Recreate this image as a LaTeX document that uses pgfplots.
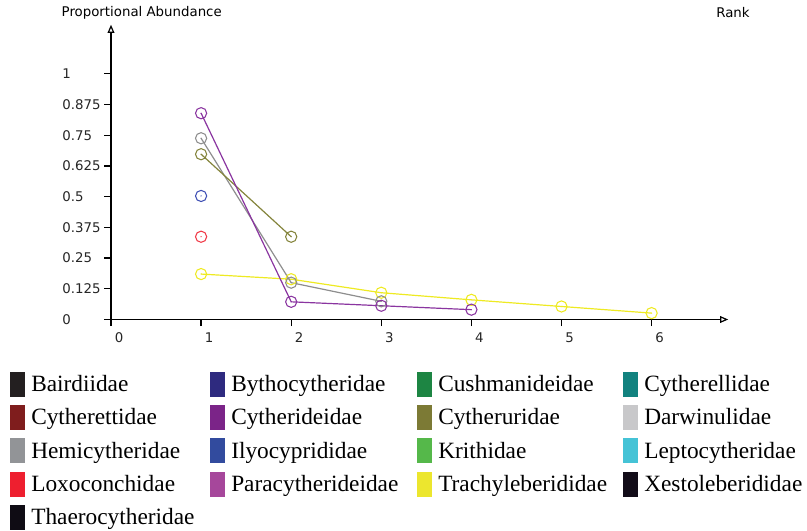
\documentclass[border=0pt]{standalone}
\usepackage{fontspec}
\setmainfont{Liberation Serif}
\newfontfamily\dejavu{DejaVu Sans}
\usepackage{pgfplots}
\pgfplotsset{compat=1.18}
\usetikzlibrary{arrows.meta}
\definecolor{cBair}{HTML}{231F20}
\definecolor{cByth}{HTML}{2E2A7F}
\definecolor{cCush}{HTML}{1D8543}
\definecolor{cCytherell}{HTML}{12827F}
\definecolor{cCytherett}{HTML}{7F1D1D}
\definecolor{cCytherid}{HTML}{7B2488}
\definecolor{cCytheru}{HTML}{7C7A35}
\definecolor{cDarw}{HTML}{C8C8CA}
\definecolor{cHemi}{HTML}{929497}
\definecolor{cIlyo}{HTML}{324B9E}
\definecolor{cKrit}{HTML}{55B84A}
\definecolor{cLept}{HTML}{45C3D6}
\definecolor{cLoxo}{HTML}{EE1F2F}
\definecolor{cPara}{HTML}{A6479B}
\definecolor{cTrach}{HTML}{ECE62E}
\definecolor{cXest}{HTML}{120C18}
\definecolor{cThae}{HTML}{0F0C14}
% plot colours
\definecolor{pPurple}{HTML}{8A35A0}
\definecolor{pOlive}{HTML}{84843C}
\definecolor{pGray}{HTML}{8E8E8E}
\definecolor{pBlue}{HTML}{4050B4}
\definecolor{pRed}{HTML}{F03A48}
\definecolor{pYellow}{HTML}{EEEA22}
\pgfdeclareplotmark{odot}{%
  \pgfpathcircle{\pgfpointorigin}{\pgfplotmarksize}\pgfusepathqstroke
  \pgfpathcircle{\pgfpointorigin}{0.5pt}\pgfusepathqfill}
\newcommand{\LA}[1]{\makebox[134.25pt][l]{#1}}
\newcommand{\LB}[1]{\makebox[139.5pt][l]{#1}}
\newcommand{\LC}[1]{\makebox[138.75pt][l]{#1}}
\begin{document}
\begin{tikzpicture}
\useasboundingbox (-83.25pt,-158.625pt) rectangle (522pt,239.625pt);
\begin{axis}[
  anchor=origin, at={(0pt,0pt)},
  x=67.575pt, y=184.2pt,
  xmin=0, xmax=6.85, ymin=0, ymax=1.2,
  axis lines*=left,
  clip=false,
  axis line style={line width=0.9pt, black},
  x axis line style={-{Triangle[open,length=6pt,width=5pt]}},
  y axis line style={-{Triangle[open,length=6pt,width=5pt]}},
  tick align=outside, major tick length=5pt,
  tick style={black, line width=0.9pt},
  xtick={0,1,2,3,4,5,6},
  xticklabels={0,1,2,3,4,5,6},
  ytick={0,0.125,0.25,0.375,0.5,0.625,0.75,0.875,1},
  yticklabels={0,0.125,0.25,0.375,0.5,0.625,0.75,0.875,1},
  /pgf/number format/assume math mode=true,
  ticklabel style={font=\dejavu\fontsize{10}{12}\selectfont, text=black!85},
  xticklabel style={xshift=6pt, yshift=-1.5pt},
  yticklabel style={anchor=west, xshift=-35pt},
  every axis x label/.style={at={(axis description cs:0,0)}, anchor=center, xshift=466.5pt, yshift=230.25pt, font=\dejavu\fontsize{10}{12}\selectfont},
  every axis y label/.style={at={(axis description cs:0,0)}, anchor=west, xshift=-40.5pt, yshift=230.25pt, font=\dejavu\fontsize{10}{12}\selectfont},
  xlabel={Rank},
  ylabel={Proportional Abundance},
  legend columns=4,
  legend style={at={(axis description cs:0,0)}, anchor=north west, xshift=-75.75pt, yshift=-39pt,
    draw=none, fill=none, inner sep=0pt, row sep=6.25pt, column sep=0pt,
    font=\fontsize{17.5}{20}\selectfont, nodes={inner sep=0pt}, cells={anchor=west}},
  legend image code/.code={\fill[#1] (0pt,-9.375pt) rectangle (11.25pt,9.375pt); \path (15.75pt,0pt);},
  every axis plot/.append style={line width=0.9pt, mark=odot, mark size=4.2pt, mark options={line width=0.8pt}},
]
\addplot[color=pYellow, forget plot] coordinates {(1,0.185) (2,0.164) (3,0.109) (4,0.080) (5,0.053) (6,0.026)};
\addplot[color=pGray, forget plot] coordinates {(1,0.738) (2,0.150) (3,0.074)};
\addplot[color=pOlive, forget plot] coordinates {(1,0.673) (2,0.337)};
\addplot[color=pPurple, forget plot] coordinates {(1,0.840) (2,0.072) (3,0.056) (4,0.040)};
\addplot[color=pBlue, forget plot] coordinates {(1,0.503)};
\addplot[color=pRed, forget plot] coordinates {(1,0.337)};
\addlegendimage{fill=cBair, draw=none}\addlegendentry{\LA{Bairdiidae}}
\addlegendimage{fill=cByth, draw=none}\addlegendentry{\LB{Bythocytheridae}}
\addlegendimage{fill=cCush, draw=none}\addlegendentry{\LC{Cushmanideidae}}
\addlegendimage{fill=cCytherell, draw=none}\addlegendentry{Cytherellidae}
\addlegendimage{fill=cCytherett, draw=none}\addlegendentry{\LA{Cytherettidae}}
\addlegendimage{fill=cCytherid, draw=none}\addlegendentry{\LB{Cytherideidae}}
\addlegendimage{fill=cCytheru, draw=none}\addlegendentry{\LC{Cytheruridae}}
\addlegendimage{fill=cDarw, draw=none}\addlegendentry{Darwinulidae}
\addlegendimage{fill=cHemi, draw=none}\addlegendentry{\LA{Hemicytheridae}}
\addlegendimage{fill=cIlyo, draw=none}\addlegendentry{\LB{Ilyocyprididae}}
\addlegendimage{fill=cKrit, draw=none}\addlegendentry{\LC{Krithidae}}
\addlegendimage{fill=cLept, draw=none}\addlegendentry{Leptocytheridae}
\addlegendimage{fill=cLoxo, draw=none}\addlegendentry{\LA{Loxoconchidae}}
\addlegendimage{fill=cPara, draw=none}\addlegendentry{\LB{Paracytherideidae}}
\addlegendimage{fill=cTrach, draw=none}\addlegendentry{\LC{Trachyleberididae}}
\addlegendimage{fill=cXest, draw=none}\addlegendentry{Xestoleberididae}
\addlegendimage{fill=cThae, draw=none}\addlegendentry{\LA{Thaerocytheridae}}
\end{axis}
\end{tikzpicture}
\end{document}
